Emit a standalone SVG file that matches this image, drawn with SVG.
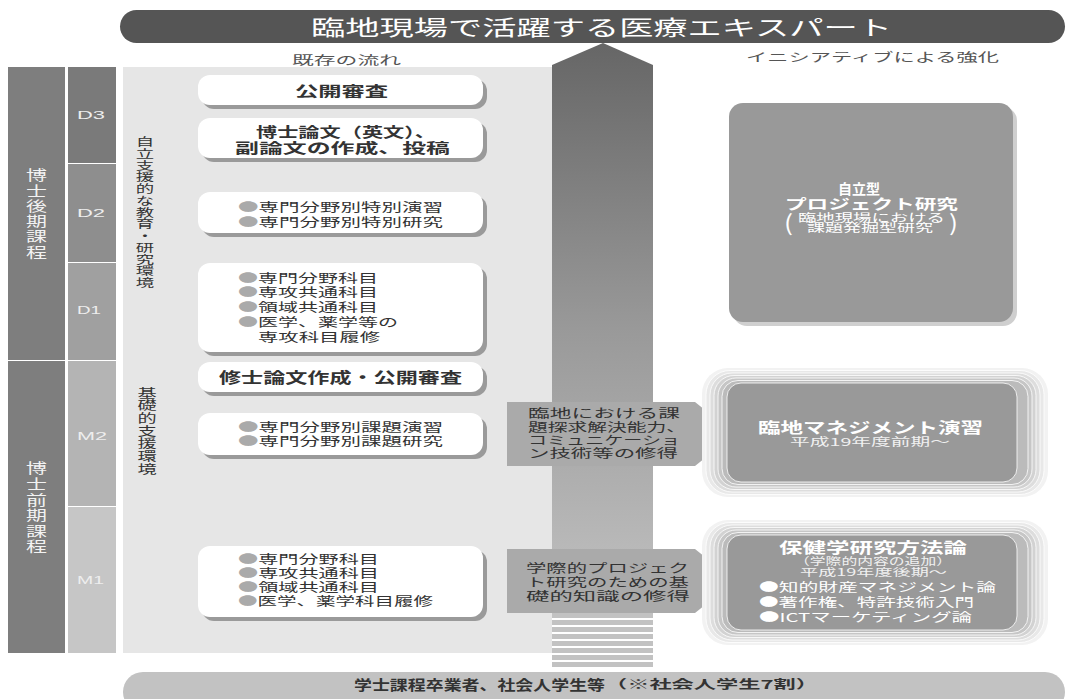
<svg xmlns="http://www.w3.org/2000/svg" width="1073" height="699" viewBox="0 0 1073 699">
<defs>
<style>
text{font-family:"Noto Sans CJK JP","Noto Sans CJK SC",sans-serif;}
.w{fill:#fff}
.d{fill:#333}
.b{font-weight:bold}
.lat{font-family:"Liberation Sans",Arial,sans-serif;fill:#eee}
.box{fill:#fff}
.sh{fill:#9a9a9a}
.bul{fill:#aaa}
.lab{fill:#aaa}
.ring{stroke:#fff;stroke-width:0.8}
.vt{writing-mode:vertical-rl}
</style>
<linearGradient id="shaft" x1="0" y1="0" x2="0" y2="1">
<stop offset="0" stop-color="#666"/>
<stop offset="0.5" stop-color="#999"/>
<stop offset="1" stop-color="#c2c2c2"/>
</linearGradient>
</defs>
<rect width="1073" height="699" fill="#fff"/>

<g id="title">
<rect x="120" y="10" width="945" height="33" rx="16.5" fill="#555"/>
<text x="311" y="34.5" font-size="21" class="w" textLength="581" lengthAdjust="spacingAndGlyphs">臨地現場で活躍する医療エキスパート</text>
</g>

<g id="headers">
<text x="292" y="64.5" font-size="12" fill="#555" textLength="109" lengthAdjust="spacingAndGlyphs">既存の流れ</text>
<text x="746" y="62" font-size="12" fill="#555" textLength="253" lengthAdjust="spacingAndGlyphs">イニシアティブによる強化</text>
</g>

<g id="panel">
<rect x="123" y="67" width="429" height="586" fill="#e6e6e6"/>
</g>

<g id="connectors">
<polygon points="603,43 653,65 653,613 552,613 552,65" fill="url(#shaft)"/>
<g fill="#c2c2c2">
<rect x="552" y="613" width="101" height="5"/>
<rect x="552" y="620" width="101" height="5"/>
<rect x="552" y="627" width="101" height="5"/>
<rect x="552" y="634" width="101" height="5"/>
<rect x="552" y="641" width="101" height="5"/>
<rect x="552" y="648" width="101" height="5"/>
<rect x="552" y="655" width="101" height="5"/>
<rect x="552" y="662" width="101" height="5"/>
</g>
</g>

<g id="col-doctor">
<rect x="8" y="67" width="57" height="293" fill="#7e7e7e"/>
<text transform="translate(36.5 168) scale(1.5 1)" x="0" y="0" class="w vt" font-size="14" letter-spacing="1.3" fill-opacity="0.92">博士後期課程</text>
</g>
<g id="col-master">
<rect x="8" y="361" width="57" height="292" fill="#7e7e7e"/>
<text transform="translate(36.5 461) scale(1.5 1)" x="0" y="0" class="w vt" font-size="14" letter-spacing="1.6" fill-opacity="0.92">博士前期課程</text>
</g>
<g id="D3"><rect x="68" y="67" width="48" height="96" fill="#7a7a7a"/><text x="77" y="119" font-size="11" class="lat" textLength="28" lengthAdjust="spacingAndGlyphs">D3</text></g>
<g id="D2"><rect x="68" y="164" width="48" height="98" fill="#8e8e8e"/><text x="77" y="217" font-size="11" class="lat" textLength="28" lengthAdjust="spacingAndGlyphs">D2</text></g>
<g id="D1"><rect x="68" y="263" width="48" height="97" fill="#a0a0a0"/><text x="77" y="314" font-size="11" class="lat" textLength="24" lengthAdjust="spacingAndGlyphs">D1</text></g>
<g id="M2"><rect x="68" y="361" width="48" height="145" fill="#b4b4b4"/><text x="77" y="440" font-size="11" class="lat" textLength="30" lengthAdjust="spacingAndGlyphs">M2</text></g>
<g id="M1"><rect x="68" y="507" width="48" height="146" fill="#c6c6c6"/><text x="77" y="584" font-size="11" class="lat" textLength="27" lengthAdjust="spacingAndGlyphs">M1</text></g>

<g id="env-doctor">
<text transform="translate(145 136) scale(1.6 1)" x="0" y="0" class="d vt" font-size="11.5" letter-spacing="0.25">自立支援的な教育・研究環境</text>
</g>
<g id="env-master">
<text transform="translate(147 387) scale(1.6 1)" x="0" y="0" class="d vt" font-size="12" letter-spacing="0.7">基礎的支援環境</text>
</g>

<g id="box1">
<rect x="202" y="79" width="285" height="30" rx="12" class="sh"/>
<rect x="198" y="75" width="285" height="30" rx="12" class="box"/>
<text x="295" y="96" font-size="14" class="d b" textLength="93" lengthAdjust="spacingAndGlyphs">公開審査</text>
</g>
<g id="box2">
<rect x="202" y="122" width="285" height="40" rx="12" class="sh"/>
<rect x="198" y="118" width="285" height="40" rx="12" class="box"/>
<text font-size="14" class="d b"><tspan x="256" y="137" textLength="180" lengthAdjust="spacingAndGlyphs">博士論文（英文）、</tspan><tspan x="235" y="153" textLength="215" lengthAdjust="spacingAndGlyphs">副論文の作成、投稿</tspan></text>
</g>
<g id="box3">
<rect x="202" y="196" width="285" height="41" rx="12" class="sh"/>
<rect x="198" y="192" width="285" height="41" rx="12" class="box"/>
<text font-size="12" class="d"><tspan x="238" y="211.5" textLength="205" lengthAdjust="spacingAndGlyphs"><tspan class="bul">●</tspan>専門分野別特別演習</tspan><tspan x="238" y="226.5" textLength="205" lengthAdjust="spacingAndGlyphs"><tspan class="bul">●</tspan>専門分野別特別研究</tspan></text>
</g>
<g id="box4">
<rect x="202" y="267" width="285" height="89" rx="12" class="sh"/>
<rect x="198" y="263" width="285" height="89" rx="12" class="box"/>
<text font-size="12" class="d"><tspan x="238" y="282.5" textLength="140" lengthAdjust="spacingAndGlyphs"><tspan class="bul">●</tspan>専門分野科目</tspan><tspan x="238" y="296.5" textLength="140" lengthAdjust="spacingAndGlyphs"><tspan class="bul">●</tspan>専攻共通科目</tspan><tspan x="238" y="311.5" textLength="140" lengthAdjust="spacingAndGlyphs"><tspan class="bul">●</tspan>領域共通科目</tspan><tspan x="238" y="326.5" textLength="160" lengthAdjust="spacingAndGlyphs"><tspan class="bul">●</tspan>医学、薬学等の</tspan><tspan x="258" y="341.5" textLength="122" lengthAdjust="spacingAndGlyphs">専攻科目履修</tspan></text>
</g>
<g id="box5">
<rect x="202" y="366" width="285" height="30" rx="12" class="sh"/>
<rect x="198" y="362" width="285" height="30" rx="12" class="box"/>
<text x="219" y="382.5" font-size="15" class="d b" textLength="243" lengthAdjust="spacingAndGlyphs">修士論文作成・公開審査</text>
</g>
<g id="box6">
<rect x="202" y="417" width="285" height="42" rx="12" class="sh"/>
<rect x="198" y="413" width="285" height="42" rx="12" class="box"/>
<text font-size="12" class="d"><tspan x="238" y="431.5" textLength="205" lengthAdjust="spacingAndGlyphs"><tspan class="bul">●</tspan>専門分野別課題演習</tspan><tspan x="238" y="445.5" textLength="205" lengthAdjust="spacingAndGlyphs"><tspan class="bul">●</tspan>専門分野別課題研究</tspan></text>
</g>
<g id="box7">
<rect x="202" y="550" width="285" height="71" rx="12" class="sh"/>
<rect x="198" y="546" width="285" height="71" rx="12" class="box"/>
<text font-size="12" class="d"><tspan x="238" y="563.5" textLength="141" lengthAdjust="spacingAndGlyphs"><tspan class="bul">●</tspan>専門分野科目</tspan><tspan x="238" y="577.5" textLength="141" lengthAdjust="spacingAndGlyphs"><tspan class="bul">●</tspan>専攻共通科目</tspan><tspan x="238" y="591.5" textLength="141" lengthAdjust="spacingAndGlyphs"><tspan class="bul">●</tspan>領域共通科目</tspan><tspan x="238" y="605.5" textLength="195" lengthAdjust="spacingAndGlyphs"><tspan class="bul">●</tspan>医学、薬学科目履修</tspan></text>
</g>

<g id="label1">
<polygon points="507,402 695,402 735,434 695,466 507,466" class="lab"/>
<text font-size="12" class="d"><tspan x="528" y="417.5" textLength="152" lengthAdjust="spacingAndGlyphs">臨地における課</tspan><tspan x="528" y="431.5" textLength="158" lengthAdjust="spacingAndGlyphs">題探求解決能力、</tspan><tspan x="528" y="444.5" textLength="152" lengthAdjust="spacingAndGlyphs">コミュニケーショ</tspan><tspan x="528" y="457.5" textLength="150" lengthAdjust="spacingAndGlyphs">ン技術等の修得</tspan></text>
</g>
<g id="label2">
<polygon points="507,549 695,549 735,581 695,613 507,613" class="lab"/>
<text font-size="12" class="d"><tspan x="526" y="572.5" textLength="163" lengthAdjust="spacingAndGlyphs">学際的プロジェク</tspan><tspan x="526" y="586.5" textLength="163" lengthAdjust="spacingAndGlyphs">ト研究のための基</tspan><tspan x="526" y="600.5" textLength="164" lengthAdjust="spacingAndGlyphs">礎的知識の修得</tspan></text>
</g>

<g id="project">
<rect x="733" y="107" width="284" height="219" rx="14" fill="#cfcfcf"/>
<rect x="729" y="103" width="284" height="219" rx="14" fill="#999"/>
<text class="w"><tspan x="838" y="193.5" font-size="14" font-weight="bold" textLength="42" lengthAdjust="spacingAndGlyphs">自立型</tspan><tspan x="785" y="209" font-size="14" font-weight="bold" textLength="173" lengthAdjust="spacingAndGlyphs">プロジェクト研究</tspan><tspan x="784" y="231" font-size="22" textLength="9" lengthAdjust="spacingAndGlyphs">(</tspan><tspan x="798" y="222" font-size="11" textLength="147" lengthAdjust="spacingAndGlyphs">臨地現場における</tspan><tspan x="807" y="232" font-size="11" textLength="126" lengthAdjust="spacingAndGlyphs">課題発掘型研究</tspan><tspan x="949" y="231" font-size="22" textLength="9" lengthAdjust="spacingAndGlyphs">)</tspan></text>
</g>

<g id="management">
<rect x="702" y="368" width="346" height="129" rx="26" fill="#f2f2f2"/>
<rect x="706" y="370.5" width="338" height="124" rx="24" fill="#e8e8e8" class="ring"/>
<rect x="710" y="373" width="330" height="119" rx="22" fill="#dddddd" class="ring"/>
<rect x="714" y="375.5" width="322" height="114" rx="20" fill="#d2d2d2" class="ring"/>
<rect x="718" y="378" width="314" height="109" rx="18" fill="#c6c6c6" class="ring"/>
<rect x="722" y="380.5" width="306" height="104" rx="16" fill="#bbbbbb" class="ring"/>
<rect x="727" y="383" width="290" height="99" rx="14" fill="#999" class="ring"/>
<text class="w"><tspan x="758" y="432.5" font-size="15" font-weight="bold" textLength="225" lengthAdjust="spacingAndGlyphs">臨地マネジメント演習</tspan><tspan x="790" y="446" font-size="11" fill="#f0f0f0" textLength="160" lengthAdjust="spacingAndGlyphs">平成19年度前期〜</tspan></text>
</g>

<g id="methodology">
<rect x="702" y="520" width="346" height="125" rx="26" fill="#f2f2f2"/>
<rect x="706" y="522.5" width="338" height="120" rx="24" fill="#e8e8e8" class="ring"/>
<rect x="710" y="525" width="330" height="115" rx="22" fill="#dddddd" class="ring"/>
<rect x="714" y="527.5" width="322" height="110" rx="20" fill="#d2d2d2" class="ring"/>
<rect x="718" y="530" width="314" height="105" rx="18" fill="#c6c6c6" class="ring"/>
<rect x="722" y="532.5" width="306" height="100" rx="16" fill="#bbbbbb" class="ring"/>
<rect x="727" y="535" width="290" height="95" rx="14" fill="#999" class="ring"/>
<text class="w"><tspan x="779" y="552.5" font-size="15" font-weight="bold" textLength="188" lengthAdjust="spacingAndGlyphs">保健学研究方法論</tspan><tspan x="794" y="565" font-size="10.5" fill="#f0f0f0" textLength="158" lengthAdjust="spacingAndGlyphs">（学際的内容の追加）</tspan><tspan x="800" y="576" font-size="10.5" fill="#f0f0f0" textLength="147" lengthAdjust="spacingAndGlyphs">平成19年度後期〜</tspan><tspan x="759" y="591.5" font-size="12" textLength="237" lengthAdjust="spacingAndGlyphs">●知的財産マネジメント論</tspan><tspan x="759" y="606.5" font-size="12" textLength="215" lengthAdjust="spacingAndGlyphs">●著作権、特許技術入門</tspan><tspan x="759" y="621.5" font-size="12" textLength="213" lengthAdjust="spacingAndGlyphs">●ICTマーケティング論</tspan></text>
</g>

<g id="bottom">
<rect x="123" y="672" width="942" height="40" rx="20" fill="#c2c2c2"/>
<text class="d b"><tspan x="354" y="690" font-size="14" textLength="251" lengthAdjust="spacingAndGlyphs">学士課程卒業者、社会人学生等</tspan><tspan x="605" y="689" font-size="12" textLength="213" lengthAdjust="spacingAndGlyphs">（※社会人学生7割）</tspan></text>
</g>
</svg>
